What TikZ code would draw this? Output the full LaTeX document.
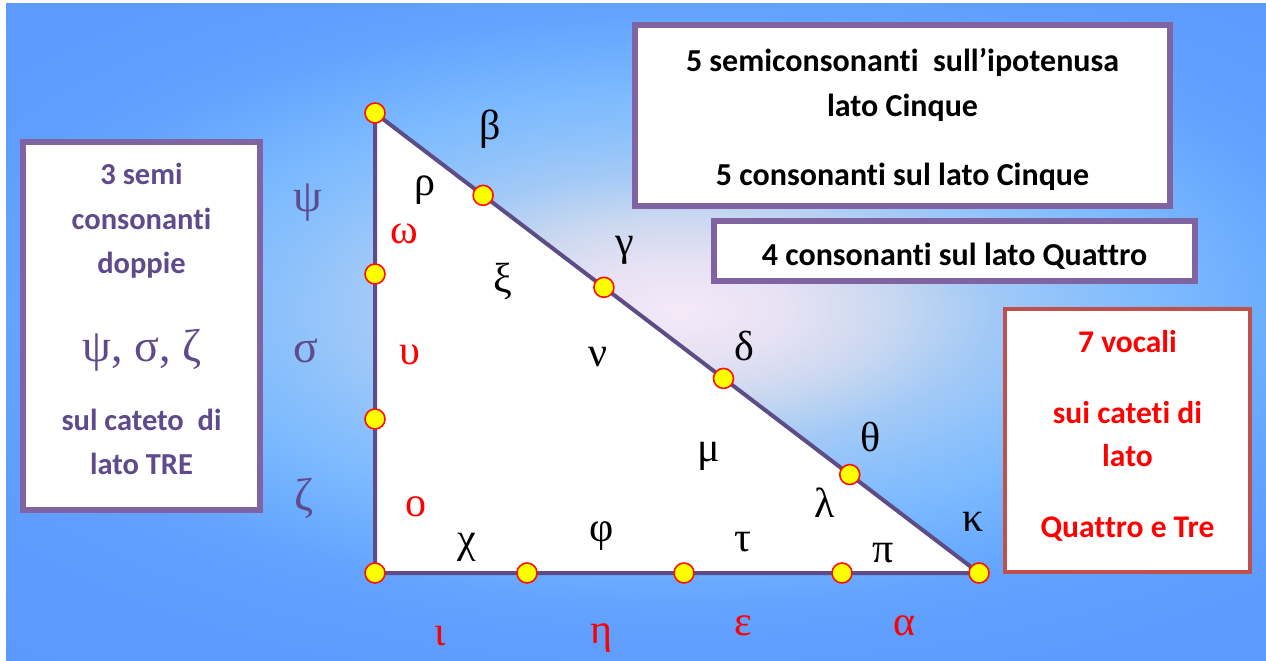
\documentclass[tikz,border=0pt]{standalone}
\usepackage{fontspec}
\setmainfont{Carlito}[Ligatures=NoCommon]
\newfontfamily\grk{Liberation Serif}
\usetikzlibrary{calc}
\definecolor{purpleframe}{HTML}{8064A2}
\definecolor{purpletext}{HTML}{5F4B8B}
\definecolor{redframe}{HTML}{C0504D}
\definecolor{triline}{HTML}{5E4C86}
\definecolor{dotfill}{HTML}{FFFF00}
\definecolor{dotdraw}{HTML}{FF1010}
\definecolor{gred}{HTML}{FF0000}
\definecolor{sc0}{HTML}{F5E9F7}
\definecolor{sc1}{HTML}{E6E1F4}
\definecolor{sc2}{HTML}{C9D8F0}
\definecolor{sc3}{HTML}{A4CAF6}
\definecolor{sc4}{HTML}{8CC1FB}
\definecolor{sc5}{HTML}{7DBAFF}
\definecolor{sc6}{HTML}{6EAEFE}
\definecolor{sc7}{HTML}{63A2FE}
\definecolor{sc8}{HTML}{5E9CFE}
\definecolor{sc9}{HTML}{5B98FE}
\pgfdeclareradialshading{bgshade}{\pgfpoint{0bp}{0bp}}{color(0bp)=(sc0); color(3.5bp)=(sc1); color(6.5bp)=(sc2); color(9.5bp)=(sc3); color(12.5bp)=(sc4); color(15bp)=(sc5); color(18bp)=(sc6); color(21bp)=(sc7); color(25bp)=(sc8); color(35bp)=(sc9); color(70bp)=(sc9)}
\tikzset{
  dot/.style={circle, fill=dotfill, draw=dotdraw, line width=1.6pt, minimum size=20pt, inner sep=0pt},
  gk/.style={font=\grk\fontsize{42}{42}\selectfont, inner sep=0pt, text=black},
  gkred/.style={gk, text=gred},
  gkpur/.style={font=\grk\fontsize{46}{46}\selectfont, inner sep=0pt, text=purpletext},
  frame/.style={draw=purpleframe, fill=white, line width=6pt, inner sep=0pt},
  redbox/.style={draw=redframe, fill=white, line width=4pt, inner sep=0pt},
  txt/.style={font=\bfseries\fontsize{32}{45}\selectfont, inner sep=0pt, align=center, text=black},
  ptxt/.style={font=\bfseries\fontsize{30.5}{44.5}\selectfont, inner sep=0pt, align=center, text=purpletext},
  rtxt/.style={font=\bfseries\fontsize{31.5}{43}\selectfont, inner sep=0pt, align=center, text=gred}
}
\begin{document}
\begin{tikzpicture}[x=1pt,y=-1pt]
\useasboundingbox (0,0) rectangle (1266,661);
\fill[white] (0,0) rectangle (1266,661);
\begin{scope}
\clip (6,4) rectangle (1266,661);
\shade[shading=bgshade] (-120,-50) rectangle (1480,670);
\end{scope}

% boxes
\node[frame, minimum width=237pt, minimum height=368pt] (lbox) at (141.5,326) {};
\node[frame, minimum width=535pt, minimum height=181pt] (tbox) at (902.5,115.5) {};
\node[frame, minimum width=481pt, minimum height=60pt] (qbox) at (954.5,251) {};
\node[redbox, minimum width=245pt, minimum height=263pt] (rbox) at (1127.5,440.5) {};

\node[ptxt] (ltxt1) at (141.5,221) {3 semi\\consonanti\\doppie};
\node[gkpur] (ltxt2) at (142,350) {ψ, σ, ζ};
\node[ptxt] (ltxt3) at (141.5,442) {sul cateto~ di\\lato TRE};
\node[txt] (ttxt) at (902.5,119) {5 semiconsonanti~ sull’ipotenusa\\lato Cinque\\[24pt]5 consonanti sul lato Cinque};
\node[txt, anchor=base] (qtxt) at (954.5,265) {4 consonanti sul lato Quattro};
\node[rtxt] (rtxt) at (1127.5,436) {7 vocali\\[28pt]sui cateti di\\lato\\[28pt]Quattro e Tre};

% triangle
\coordinate (A) at (375,113);
\coordinate (B) at (375,573);
\coordinate (C) at (979,573);
\filldraw[fill=white, draw=triline, line width=4pt, line join=round] (A) -- (B) -- (C) -- cycle;

% dots
\node[dot] (dA) at (A) {};
\node[dot] (dL1) at (375,274) {};
\node[dot] (dL2) at (375,419) {};
\node[dot] (dB) at (B) {};
\node[dot] (dB1) at (527,573) {};
\node[dot] (dB2) at (684,573) {};
\node[dot] (dB3) at (842,573) {};
\node[dot] (dC) at (C) {};
\node[dot] (dH1) at ($(A)!0.179!(C)$) {};
\node[dot] (dH2) at ($(A)!0.379!(C)$) {};
\node[dot] (dH3) at ($(A)!0.577!(C)$) {};
\node[dot] (dH4) at ($(A)!0.786!(C)$) {};

% purple letters on the left
\node[gkpur] (psi) at (308,203) {ψ};
\node[gkpur] (sigma) at (306,351) {σ};
\node[gkpur] (zeta) at (304,498) {ζ};

% black letters
\node[gk] (beta) at (490,129) {β};
\node[gk] (rho) at (425,190) {ρ};
\node[gk] (xi) at (503,282) {ξ};
\node[gk] (gamma) at (625,250) {γ};
\node[gk] (nu) at (598,357) {ν};
\node[gk] (delta) at (744,346) {δ};
\node[gk] (mu) at (709,456) {μ};
\node[gk] (theta) at (871,437) {θ};
\node[gk] (lambda) at (825,503) {λ};
\node[gk] (kappa) at (973,522) {κ};
\node[gk] (chi) at (467,547) {χ};
\node[gk] (phi) at (602,536) {φ};
\node[gk] (tau) at (743,542) {τ};
\node[gk] (pi) at (883,553) {π};

% red letters
\node[gkred] (omega) at (404,234) {ω};
\node[gkred] (upsilon) at (410,355) {υ};
\node[gkred] (omicron) at (416,507) {ο};
\node[gkred] (iota) at (440,636) {ι};
\node[gkred] (eta) at (601,638) {η};
\node[gkred] (epsilon) at (743,626) {ε};
\node[gkred] (alpha) at (904,626) {α};
\end{tikzpicture}
\end{document}
